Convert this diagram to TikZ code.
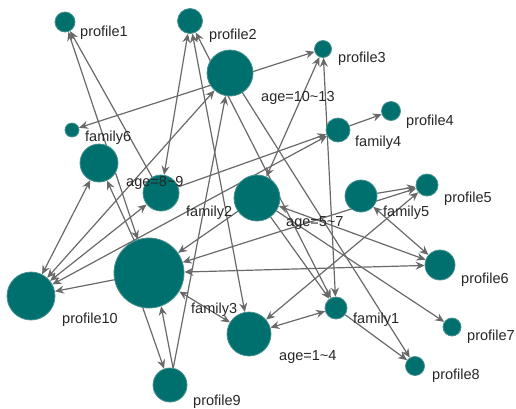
\documentclass[tikz,border=0pt]{standalone}
\usepackage{fontspec}
\setmainfont{Liberation Sans}
\usetikzlibrary{arrows.meta}
\definecolor{nodeteal}{RGB}{0,112,110}
\definecolor{rimteal}{RGB}{70,145,142}
\definecolor{edgegray}{RGB}{105,105,105}
\pgfdeclarelayer{back}
\pgfsetlayers{back,main}

\begin{document}
\begin{tikzpicture}[x=1bp,y=-1bp,vert/.style={circle,fill=nodeteal,draw=rimteal,line width=0.8bp,inner sep=0pt},lbl/.style={anchor=west,inner sep=0pt,text=black!85,font=\fontsize{14.5bp}{15bp}\selectfont},line/.style={-{Stealth[length=9bp,width=8bp,inset=3bp]},draw=edgegray,line width=1.2bp},both/.style={line,{Stealth[length=9bp,width=8bp,inset=3bp]}-{Stealth[length=9bp,width=8bp,inset=3bp]}}]
\useasboundingbox (0,0) rectangle (516,408);
% profiles
\node[vert,minimum size=20bp] (p1) at (65,22) {};   \node[lbl] at (80,33) {profile1};
\node[vert,minimum size=25bp] (p2) at (190,21) {};  \node[lbl] at (209,36) {profile2};
\node[vert,minimum size=17bp] (p3) at (323,49) {};  \node[lbl] at (338,59) {profile3};
\node[vert,minimum size=19bp] (p4) at (391,111) {}; \node[lbl] at (406,122) {profile4};
\node[vert,minimum size=22bp] (p5) at (427,185) {}; \node[lbl] at (444,199) {profile5};
\node[vert,minimum size=30bp] (p6) at (440,265) {}; \node[lbl] at (461,280) {profile6};
\node[vert,minimum size=18bp] (p7) at (452,327) {}; \node[lbl] at (467,337) {profile7};
\node[vert,minimum size=19bp] (p8) at (415,366) {}; \node[lbl] at (432,376) {profile8};
\node[vert,minimum size=34bp] (p9) at (170,385) {}; \node[lbl] at (193,402) {profile9};
\node[vert,minimum size=48bp] (p10) at (31,296) {}; \node[lbl] at (62,320) {profile10};
% families
\node[vert,minimum size=22bp] (f1) at (336,308) {}; \node[lbl] at (353,320) {family1};
\node[vert,minimum size=36bp] (f2) at (161,193) {}; \node[lbl] at (186,213) {family2};
\node[vert,minimum size=70bp] (f3) at (149,273) {}; \node[lbl] at (191,310) {family3};
\node[vert,minimum size=24bp] (f4) at (338,130) {}; \node[lbl] at (355,143) {family4};
\node[vert,minimum size=32bp] (f5) at (361,196) {}; \node[lbl] at (383,213) {family5};
\node[vert,minimum size=14bp] (f6) at (72,130) {};  \node[lbl] at (85,138) {family6};
% age groups
\node[vert,minimum size=44bp] (a14) at (249,334) {};   \node[lbl] at (279,357) {age=1\textasciitilde4};
\node[vert,minimum size=46bp] (a57) at (257,198) {};   \node[lbl] at (286,223) {age=5\textasciitilde7};
\node[vert,minimum size=38bp] (a89) at (99,163) {};    \node[lbl] at (126,183) {age=8\textasciitilde9};
\node[vert,minimum size=46bp] (a1013) at (230,73) {};  \node[lbl] at (261,98) {age=10\textasciitilde13};
% links
\begin{pgfonlayer}{back}
\draw[both] (f3) -- (p1);
\draw[line] (f2) -- (p1);
\draw[both] (a14) -- (p2);
\draw[both] (f1) -- (p2);
\draw[both] (f2) -- (p2);
\draw[both] (f6) -- (p3);
\draw[both] (f1) -- (p3);
\draw[both] (a57) -- (p3);
\draw[line] (f4) -- (p4);
\draw[line] (f5) -- (p5);
\draw[both] (a14) -- (p5);
\draw[both] (f3) -- (p6);
\draw[both] (f5) -- (p6);
\draw[both] (a57) -- (p6);
\draw[line] (a57) -- (p7);
\draw[line] (f1) -- (p8);
\draw[line] (a1013) -- (p8);
\draw[line] (f3.-100) -- (p9.110);
\draw[line] (p9.80) -- (f3.-70);
\draw[line] (p9) -- (a1013);
\draw[both] (a89) -- (p10);
\draw[both] (f2) -- (p10);
\draw[line] (f3) -- (p10);
\draw[both] (a1013) -- (p10);
\draw[line] (f2) -- (f4);
\draw[both] (p10) -- (f4);
\draw[line] (f3) -- (a89);
\draw[both] (f3) -- (a14);
\draw[both] (f1) -- (a14);
\draw[line] (a57) -- (f1);
\draw[both] (f3) -- (p5);
\draw[line] (a57) -- (f3);
\end{pgfonlayer}
\end{tikzpicture}
\end{document}
